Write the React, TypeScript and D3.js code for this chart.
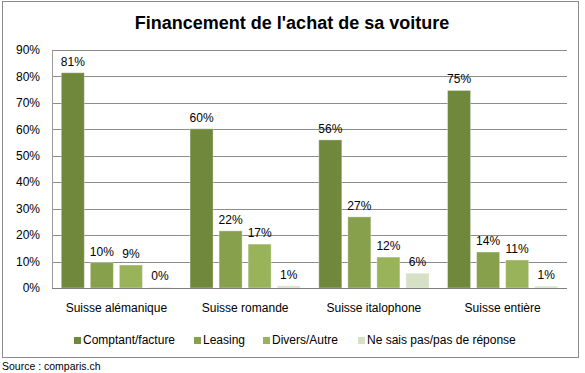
import React from 'react';
import * as d3 from 'd3';

// regions along the x axis
const regions = ['Suisse alémanique', 'Suisse romande', 'Suisse italophone', 'Suisse entière'];
// series (legend order)
const seriesNames = ['Comptant/facture', 'Leasing', 'Divers/Autre', 'Ne sais pas/pas de réponse'];
const seriesColors = ['#6F883C', '#86A04B', '#99B35B', '#D6E0C5'];

// values in %, one array per series
const comptant = [81.4, 60.2, 56.0, 74.7];
const leasing = [9.6, 21.6, 26.9, 13.6];
const divers = [8.7, 16.6, 11.7, 10.6];
const neSaisPas = [0.2, 0.8, 5.6, 0.7];

const yTicks = [0, 10, 20, 30, 40, 50, 60, 70, 80, 90];

const title = "Financement de l'achat de sa voiture";
const source = 'Source : comparis.ch';

const font = "Arial, 'Liberation Sans', sans-serif";

const App = () => {
  const width = 585;
  const height = 373;
  const plot = { left: 52, right: 567, top: 50, bottom: 288 };

  const allSeries = [comptant, leasing, divers, neSaisPas];

  const yScale = d3.scaleLinear().domain([0, 90]).range([plot.bottom, plot.top]);

  const x0 = d3.scaleBand<string>().domain(regions).range([plot.left, plot.right]);

  const x1 = d3
    .scaleBand<string>()
    .domain(seriesNames)
    .range([0, x0.bandwidth()])
    .paddingInner(0.207)
    .paddingOuter(0.32);

  const fmt = d3.format('.0f');

  // legend layout (x of each swatch)
  const legendX = [74, 194, 263, 358];
  const legendY = 340;

  return (
    <svg
      width={width}
      height={height}
      style={{ position: 'absolute', left: 0, top: 0, background: '#fff' }}
      fontFamily={font}
    >
      {/* outer frame */}
      <rect x={2.5} y={1.5} width={576} height={356} fill="#fff" stroke="#8a8a8a" strokeWidth={1} />

      <text x={292} y={29} textAnchor="middle" fontSize={18} fontWeight="bold" fill="#000">
        {title}
      </text>

      {/* grid + y labels */}
      {yTicks.map((t) => (
        <g key={t}>
          {t > 0 && (
            <line
              x1={plot.left}
              x2={plot.right}
              y1={Math.round(yScale(t)) + 0.5}
              y2={Math.round(yScale(t)) + 0.5}
              stroke="#8c8c8c"
            />
          )}
          <text x={40} y={yScale(t)} dy="0.35em" textAnchor="end" fontSize={12} fill="#000">
            {t}%
          </text>
        </g>
      ))}
      <line x1={plot.left + 0.5} x2={plot.left + 0.5} y1={plot.top} y2={plot.bottom} stroke="#9a9a9a" />

      {/* bars */}
      {regions.map((r, i) => (
        <g key={r} transform={`translate(${x0(r)},0)`}>
          {seriesNames.map((s, j) => {
            const v = allSeries[j][i];
            const bx = x1(s) as number;
            return (
              <g key={s}>
                <rect
                  x={bx}
                  y={yScale(v)}
                  width={x1.bandwidth()}
                  height={plot.bottom - yScale(v)}
                  fill={seriesColors[j]}
                  stroke="#ffffff"
                  strokeOpacity={0.35}
                  strokeWidth={1}
                />
                <text
                  x={bx + x1.bandwidth() / 2}
                  y={yScale(v) - 7}
                  textAnchor="middle"
                  fontSize={12}
                  fill="#000"
                >
                  {fmt(v)}%
                </text>
              </g>
            );
          })}
          <text x={x0.bandwidth() / 2} y={312} textAnchor="middle" fontSize={12} fill="#000">
            {r}
          </text>
        </g>
      ))}

      <line x1={plot.left} x2={plot.right} y1={plot.bottom + 0.5} y2={plot.bottom + 0.5} stroke="#7f7f7f" />

      {/* legend */}
      {seriesNames.map((s, j) => (
        <g key={s} transform={`translate(${legendX[j]},${legendY})`}>
          <rect x={0} y={-3} width={7} height={7} fill={seriesColors[j]} />
          <text x={9} y={0} dy="0.35em" fontSize={12} fill="#000">
            {s}
          </text>
        </g>
      ))}

      <text x={2} y={370} fontSize={10.5} fill="#000">
        {source}
      </text>
    </svg>
  );
};

export default App;
